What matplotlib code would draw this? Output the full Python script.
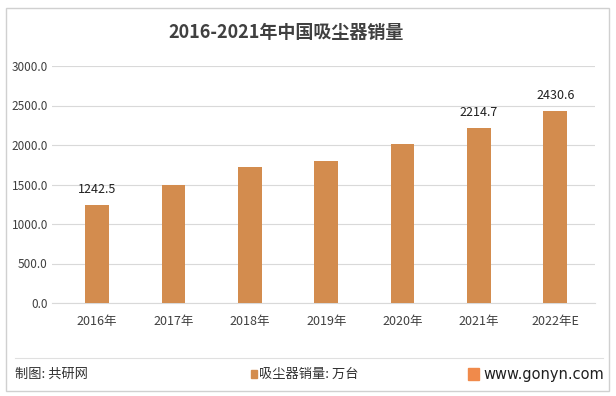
import matplotlib.pyplot as plt
from matplotlib.patches import Rectangle

years = ["2016年", "2017年", "2018年", "2019年", "2020年", "2021年", "2022年E"]
sales = [1242.5, 1500.0, 1720.0, 1795.0, 2015.0, 2214.7, 2430.6]
labelled = [0, 5, 6]
yticks = [0, 500, 1000, 1500, 2000, 2500, 3000]

bar_color = "#D38C4E"
text_color = "#404040"
cjk = ["Noto Sans CJK SC", "DejaVu Sans"]
plt.rcParams["font.family"] = cjk

fig = plt.figure(figsize=(6.16, 3.96), dpi=100)
W, H = 616, 396

# outer frame
fig.patches.append(Rectangle((6 / W, 5 / H), 603 / W, 383 / H, transform=fig.transFigure,
                             fill=False, edgecolor="#d0d0d0", linewidth=1))

ax = fig.add_axes([52 / W, 1 - 303 / H, 543 / W, (303 - 66) / H])
x = range(len(years))
ax.bar(x, sales, width=0.31, color=bar_color, zorder=3)
for i in labelled:
    ax.text(i, sales[i] + 110, f"{sales[i]:.1f}", ha="center", va="bottom",
            fontsize=9, color="#202020")

ax.set_ylim(0, 3000)
ax.set_xlim(-0.59, 6.52)
ax.set_yticks(yticks)
ax.set_yticklabels([f"{v:.1f}" for v in yticks], fontsize=8.5, color=text_color)
ax.set_xticks(list(x))
ax.set_xticklabels(years, fontsize=9, color=text_color)
ax.grid(axis="y", color="#d9d9d9", linewidth=0.8, zorder=0)
for s in ["top", "right", "left"]:
    ax.spines[s].set_visible(False)
ax.spines["bottom"].set_color("#d9d9d9")
ax.tick_params(axis="x", length=0, pad=9)
ax.tick_params(axis="y", length=0, pad=3)

fig.text(286 / W, 1 - 33 / H, "2016-2021年中国吸尘器销量", ha="center", va="center",
         fontsize=13, fontweight="bold", color=text_color)

# footer
fig.add_artist(plt.Line2D([15 / W, 603 / W], [1 - 358 / H, 1 - 358 / H],
                          color="#e0e0e0", linewidth=0.8))
fy = 1 - 374 / H
fig.text(15 / W, fy, "制图: 共研网", ha="left", va="center", fontsize=9.5, color="#303030")
fig.patches.append(Rectangle((251 / W, fy - 4 / H), 6 / W, 8 / H, transform=fig.transFigure,
                             color=bar_color))
fig.text(259 / W, fy, "吸尘器销量: 万台", ha="left", va="center", fontsize=9.5, color="#303030")
fig.patches.append(Rectangle((468 / W, fy - 6 / H), 11 / W, 12 / H, transform=fig.transFigure,
                             color="#F08A4B"))
fig.text(604 / W, fy, "www.gonyn.com", ha="right", va="center", fontsize=10.5,
         color="#202020", family=["DejaVu Sans"])

fig.savefig("out.png", dpi=100)
